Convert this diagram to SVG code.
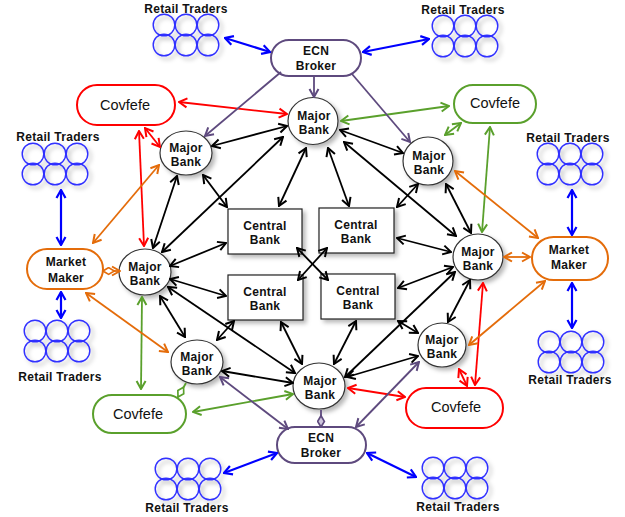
<svg xmlns="http://www.w3.org/2000/svg" xmlns:xlink="http://www.w3.org/1999/xlink" width="625" height="517" viewBox="0 0 625 517">
<style>
.lbl{font-family:"Liberation Sans",Arial,sans-serif;font-weight:bold;font-size:12px;fill:#111;text-anchor:middle;letter-spacing:0.3px}
.cov{font-family:"Liberation Sans",Arial,sans-serif;font-size:14.5px;fill:#111;text-anchor:middle}
.mb{fill:#fff;stroke:#333;stroke-width:1.2;filter:url(#sh)}
.cb{fill:#fff;stroke:#222;stroke-width:1.2;filter:url(#sh)}
.pill{fill:#fff;stroke-width:2}
.rt circle{fill:none;stroke:#3030ff;stroke-width:1.4}
.c line{fill:none;stroke-width:1.8}
.k{stroke:#000;marker-start:url(#ak);marker-end:url(#ak)}
.r{stroke:#f00;marker-start:url(#ar);marker-end:url(#ar)}
.g{stroke:#5aa02c;marker-start:url(#ag);marker-end:url(#ag)}
.o{stroke:#e46c0a;marker-start:url(#ao);marker-end:url(#ao)}
.b{stroke:#0000ff;stroke-width:2.2 !important;marker-start:url(#ab);marker-end:url(#ab)}
.p{stroke:#5e4a7e;marker-end:url(#ap)}
.pp{stroke:#5e4a7e;marker-start:url(#ap);marker-end:url(#ap)}
</style>
<defs>
<filter id="sh" x="-30%" y="-30%" width="170%" height="170%"><feDropShadow dx="3" dy="3" stdDeviation="2" flood-color="#000" flood-opacity="0.28"/></filter>
<marker id="ak" viewBox="0 0 12 12" refX="11" refY="6" markerWidth="12" markerHeight="12" markerUnits="userSpaceOnUse" orient="auto-start-reverse"><path d="M3,1.5 L11,6 L3,10.5" fill="none" stroke="#000" stroke-width="2"/></marker>
<marker id="ar" viewBox="0 0 12 12" refX="11" refY="6" markerWidth="12" markerHeight="12" markerUnits="userSpaceOnUse" orient="auto-start-reverse"><path d="M3,1.5 L11,6 L3,10.5" fill="none" stroke="#f00" stroke-width="2"/></marker>
<marker id="ag" viewBox="0 0 12 12" refX="11" refY="6" markerWidth="12" markerHeight="12" markerUnits="userSpaceOnUse" orient="auto-start-reverse"><path d="M3,1.5 L11,6 L3,10.5" fill="none" stroke="#5aa02c" stroke-width="2"/></marker>
<marker id="ao" viewBox="0 0 12 12" refX="11" refY="6" markerWidth="12" markerHeight="12" markerUnits="userSpaceOnUse" orient="auto-start-reverse"><path d="M3,1.5 L11,6 L3,10.5" fill="none" stroke="#e46c0a" stroke-width="2"/></marker>
<marker id="ab" viewBox="0 0 12 12" refX="11" refY="6" markerWidth="12" markerHeight="12" markerUnits="userSpaceOnUse" orient="auto-start-reverse"><path d="M3,1.5 L11,6 L3,10.5" fill="none" stroke="#00f" stroke-width="2.2"/></marker>
<marker id="ap" viewBox="0 0 12 12" refX="11" refY="6" markerWidth="12" markerHeight="12" markerUnits="userSpaceOnUse" orient="auto-start-reverse"><path d="M3,1.5 L11,6 L3,10.5" fill="none" stroke="#5e4a7e" stroke-width="2"/></marker>
<marker id="dg" viewBox="0 0 12 8" refX="11" refY="4" markerWidth="14" markerHeight="9" markerUnits="userSpaceOnUse" orient="auto-start-reverse"><path d="M1,4 L6,1 L11,4 L6,7 Z" fill="#fff" stroke="#5aa02c" stroke-width="1.5"/></marker>
<marker id="do" viewBox="0 0 12 8" refX="11" refY="4" markerWidth="14" markerHeight="9" markerUnits="userSpaceOnUse" orient="auto-start-reverse"><path d="M1,4 L6,1 L11,4 L6,7 Z" fill="#fff" stroke="#e46c0a" stroke-width="1.5"/></marker>
<marker id="dp" viewBox="0 0 12 8" refX="11" refY="4" markerWidth="14" markerHeight="9" markerUnits="userSpaceOnUse" orient="auto-start-reverse"><path d="M1,4 L6,1 L11,4 L6,7 Z" fill="#cfc6dd" stroke="#5e4a7e" stroke-width="1.5"/></marker>
<g id="rtc" class="rt">
<circle cx="-22" cy="-10" r="10.8"/><circle cx="0" cy="-10" r="10.8"/><circle cx="22" cy="-10" r="10.8"/>
<circle cx="-22" cy="10" r="10.8"/><circle cx="0" cy="10" r="10.8"/><circle cx="22" cy="10" r="10.8"/>
</g>
</defs>
<rect width="625" height="517" fill="#fff"/>

<!-- Retail traders -->
<g id="rt-tl"><use xlink:href="#rtc" x="186" y="35" filter="url(#sh)"/><text class="lbl" x="186" y="13">Retail Traders</text></g>
<g id="rt-tr"><use xlink:href="#rtc" x="465" y="36" filter="url(#sh)"/><text class="lbl" x="463" y="14">Retail Traders</text></g>
<g id="rt-lm"><use xlink:href="#rtc" x="55" y="164" filter="url(#sh)"/><text class="lbl" x="58" y="141">Retail Traders</text></g>
<g id="rt-rm"><use xlink:href="#rtc" x="570" y="164" filter="url(#sh)"/><text class="lbl" x="568" y="142">Retail Traders</text></g>
<g id="rt-ll"><use xlink:href="#rtc" x="57" y="341" filter="url(#sh)"/><text class="lbl" x="60" y="381">Retail Traders</text></g>
<g id="rt-rl"><use xlink:href="#rtc" x="571" y="352" filter="url(#sh)"/><text class="lbl" x="570" y="384">Retail Traders</text></g>
<g id="rt-bl"><use xlink:href="#rtc" x="188" y="479" filter="url(#sh)"/><text class="lbl" x="187" y="512">Retail Traders</text></g>
<g id="rt-br"><use xlink:href="#rtc" x="455" y="478" filter="url(#sh)"/><text class="lbl" x="458" y="511">Retail Traders</text></g>

<!-- ECN brokers -->
<g id="ecn-top"><rect class="pill" x="271" y="40" width="90" height="36" rx="18" stroke="#5e4a7e"/><text class="lbl" x="316" y="55">ECN</text><text class="lbl" x="316" y="70">Broker</text></g>
<g id="ecn-bot"><rect class="pill" x="277" y="427" width="89" height="36" rx="18" stroke="#5e4a7e"/><text class="lbl" x="321" y="442">ECN</text><text class="lbl" x="321" y="457">Broker</text></g>

<!-- Covfefe -->
<g id="cov-ul"><rect class="pill" x="77" y="85" width="98" height="40" rx="20" stroke="#f00"/><text class="cov" x="125" y="110">Covfefe</text></g>
<g id="cov-ur"><rect class="pill" x="454" y="85" width="82" height="38" rx="19" stroke="#5aa02c"/><text class="cov" x="495" y="108">Covfefe</text></g>
<g id="cov-ll"><rect class="pill" x="93" y="395" width="93" height="38" rx="19" stroke="#5aa02c"/><text class="cov" x="138" y="419">Covfefe</text></g>
<g id="cov-lr"><rect class="pill" x="406" y="388" width="97" height="40" rx="20" stroke="#f00"/><text class="cov" x="456" y="412">Covfefe</text></g>

<!-- Market makers -->
<g id="mm-l"><rect class="pill" x="27" y="249" width="76" height="40" rx="20" stroke="#e46c0a"/><text class="lbl" x="66" y="266">Market</text><text class="lbl" x="66" y="282">Maker</text></g>
<g id="mm-r"><rect class="pill" x="532" y="237" width="76" height="43" rx="21.5" stroke="#e46c0a"/><text class="lbl" x="569" y="254">Market</text><text class="lbl" x="569" y="269">Maker</text></g>

<!-- Major banks -->
<g id="mb-top"><ellipse class="mb" cx="313" cy="121" rx="25" ry="23.5"/><text class="lbl" x="314" y="120">Major</text><text class="lbl" x="314" y="134">Bank</text></g>
<g id="mb-ul"><ellipse class="mb" cx="186" cy="153" rx="26" ry="22"/><text class="lbl" x="186" y="152">Major</text><text class="lbl" x="186" y="166">Bank</text></g>
<g id="mb-ur"><ellipse class="mb" cx="428" cy="161" rx="25" ry="24"/><text class="lbl" x="429" y="160">Major</text><text class="lbl" x="429" y="174">Bank</text></g>
<g id="mb-l"><ellipse class="mb" cx="145" cy="272" rx="26" ry="23"/><text class="lbl" x="145" y="271">Major</text><text class="lbl" x="145" y="285">Bank</text></g>
<g id="mb-r"><ellipse class="mb" cx="478" cy="257" rx="25" ry="23"/><text class="lbl" x="478" y="256">Major</text><text class="lbl" x="478" y="270">Bank</text></g>
<g id="mb-ll"><ellipse class="mb" cx="197" cy="362" rx="26" ry="22"/><text class="lbl" x="197" y="361">Major</text><text class="lbl" x="197" y="375">Bank</text></g>
<g id="mb-lr"><ellipse class="mb" cx="442" cy="345" rx="24" ry="22"/><text class="lbl" x="442" y="344">Major</text><text class="lbl" x="442" y="358">Bank</text></g>
<g id="mb-bot"><ellipse class="mb" cx="319" cy="386" rx="26" ry="23"/><text class="lbl" x="320" y="385">Major</text><text class="lbl" x="320" y="399">Bank</text></g>

<!-- Central banks -->
<g id="cb-ul"><rect class="cb" x="228" y="209" width="74" height="45"/><text class="lbl" x="265" y="230">Central</text><text class="lbl" x="265" y="244">Bank</text></g>
<g id="cb-ur"><rect class="cb" x="319" y="208" width="75" height="45"/><text class="lbl" x="356" y="229">Central</text><text class="lbl" x="356" y="243">Bank</text></g>
<g id="cb-ll"><rect class="cb" x="228" y="275" width="75" height="45"/><text class="lbl" x="265" y="296">Central</text><text class="lbl" x="265" y="310">Bank</text></g>
<g id="cb-lr"><rect class="cb" x="321" y="274" width="74" height="45"/><text class="lbl" x="358" y="295">Central</text><text class="lbl" x="358" y="309">Bank</text></g>

<!-- Connectors -->
<g id="connectors" class="c">
<line class="k" x1="212" y1="146" x2="287" y2="126"/>
<line class="k" x1="340" y1="130" x2="403" y2="153"/>
<line class="k" x1="283" y1="137" x2="162" y2="252"/>
<line class="k" x1="344" y1="142" x2="456" y2="236"/>
<line class="k" x1="306" y1="148" x2="279" y2="206"/>
<line class="k" x1="328" y1="148" x2="349" y2="206"/>
<line class="k" x1="203" y1="175" x2="227" y2="207"/>
<line class="k" x1="177" y1="176" x2="153" y2="248"/>
<line class="k" x1="418" y1="184" x2="397" y2="207"/>
<line class="k" x1="446" y1="184" x2="471" y2="233"/>
<line class="k" x1="170" y1="266" x2="226" y2="243"/>
<line class="k" x1="170" y1="279" x2="226" y2="296"/>
<line class="k" x1="168" y1="287" x2="295" y2="373"/>
<line class="k" x1="160" y1="296" x2="185" y2="337"/>
<line class="k" x1="397" y1="238" x2="451" y2="252"/>
<line class="k" x1="453" y1="267" x2="398" y2="288"/>
<line class="k" x1="455" y1="272" x2="345" y2="377"/>
<line class="k" x1="470" y1="280" x2="448" y2="322"/>
<line class="k" x1="217" y1="340" x2="234" y2="321"/>
<line class="k" x1="222" y1="371" x2="293" y2="383"/>
<line class="k" x1="418" y1="333" x2="398" y2="321"/>
<line class="k" x1="347" y1="377" x2="418" y2="356"/>
<line class="k" x1="281" y1="322" x2="302" y2="364"/>
<line class="k" x1="356" y1="321" x2="334" y2="364"/>
<line class="k" x1="297" y1="248" x2="328" y2="280"/>
<line class="k" x1="327" y1="248" x2="298" y2="280"/>

<line class="r" x1="179" y1="102" x2="287" y2="114"/>
<line class="r" x1="145" y1="128" x2="160" y2="147"/>
<line class="r" x1="139" y1="131" x2="144" y2="246"/>
<line class="r" x1="348" y1="388" x2="405" y2="397"/>
<line class="r" x1="459" y1="369" x2="467" y2="386"/>
<line class="r" x1="483" y1="283" x2="475" y2="385"/>

<line class="g" x1="341" y1="121" x2="449" y2="106"/>
<line class="g" x1="445" y1="135" x2="461" y2="123"/>
<line class="g" x1="490" y1="127" x2="482" y2="232"/>
<line class="g" x1="142" y1="297" x2="141" y2="389"/>
<line class="g" x1="193" y1="412" x2="293" y2="394"/>
<line stroke="#5aa02c" x1="178" y1="397" x2="186" y2="383" marker-start="url(#dg)"/>

<line class="o" x1="93" y1="243" x2="159" y2="165"/>
<line class="o" x1="86" y1="293" x2="168" y2="352"/>
<line class="o" x1="455" y1="171" x2="538" y2="238"/>
<line class="o" x1="504" y1="257" x2="530" y2="257"/>
<line class="o" x1="545" y1="281" x2="469" y2="345"/>
<line stroke="#e46c0a" x1="103" y1="271" x2="120" y2="271" marker-start="url(#do)" marker-end="url(#ao)"/>

<line class="b" x1="225" y1="38" x2="270" y2="52"/>
<line class="b" x1="363" y1="52" x2="429" y2="39"/>
<line class="b" x1="61" y1="190" x2="61" y2="245"/>
<line class="b" x1="61" y1="292" x2="61" y2="318"/>
<line class="b" x1="572" y1="190" x2="572" y2="235"/>
<line class="b" x1="572" y1="283" x2="572" y2="328"/>
<line class="b" x1="224" y1="473" x2="277" y2="453"/>
<line class="b" x1="367" y1="453" x2="416" y2="477"/>

<line class="p" x1="281" y1="72" x2="205" y2="136"/>
<line class="p" x1="314" y1="77" x2="314" y2="97"/>
<line class="p" x1="352" y1="74" x2="410" y2="142"/>
<line class="pp" x1="220" y1="377" x2="288" y2="429"/>
<line class="pp" x1="356" y1="427" x2="419" y2="362"/>
<line stroke="#5e4a7e" x1="321" y1="410" x2="321" y2="427" marker-end="url(#dp)"/>
</g>
</svg>
